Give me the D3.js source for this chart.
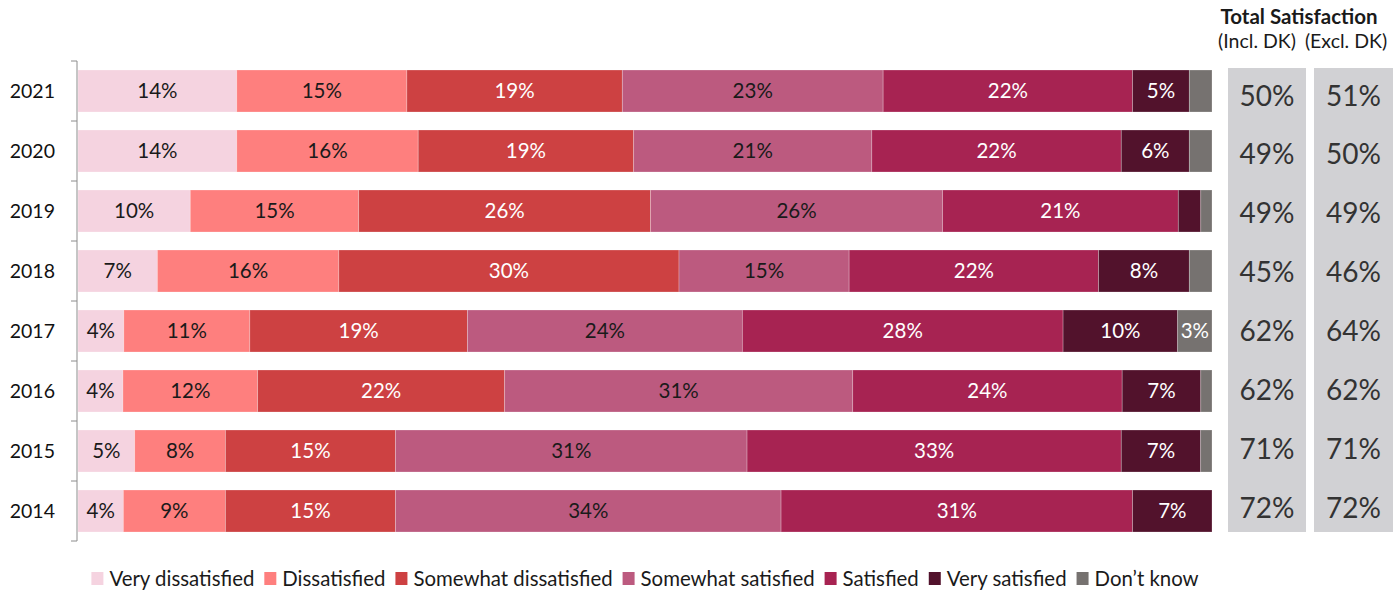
<!DOCTYPE html>
<html>
<head>
<meta charset="utf-8">
<script src="https://cdn.jsdelivr.net/npm/d3@7/dist/d3.min.js"></script>
<style>
  html, body { margin: 0; padding: 0; background: #fff; }
  svg { display: block; font-family: Lato, "Noto Sans", sans-serif; }
</style>
</head>
<body>
<svg id="chart" width="1400" height="592"></svg>
<script>
// Satisfaction survey, share of responses per year (%)
const years = ["2021", "2020", "2019", "2018", "2017", "2016", "2015", "2014"];
const categories = ["Very dissatisfied", "Dissatisfied", "Somewhat dissatisfied",
  "Somewhat satisfied", "Satisfied", "Very satisfied", "Don\u2019t know"];
const veryDissatisfied     = [14, 14, 10, 7, 4, 4, 5, 4];
const dissatisfied         = [15, 16, 15, 16, 11, 12, 8, 9];
const somewhatDissatisfied = [19, 19, 26, 30, 19, 22, 15, 15];
const somewhatSatisfied    = [23, 21, 26, 15, 24, 31, 31, 34];
const satisfied            = [22, 22, 21, 22, 28, 24, 33, 31];
const verySatisfied        = [5, 6, 2, 8, 10, 7, 7, 7];
const dontKnow             = [2, 2, 1, 2, 3, 1, 1, 0];
// Total satisfaction columns (%)
const totalInclDK = [50, 49, 49, 45, 62, 62, 71, 72];
const totalExclDK = [51, 50, 49, 46, 64, 62, 71, 72];

const colors = ["#f5d3e0", "#fe7f7e", "#cd4142", "#bc5a7f", "#a72352", "#52122c", "#767270"];
const labelColors = ["#1a1a1a", "#1a1a1a", "#ffffff", "#1a1a1a", "#ffffff", "#ffffff", "#ffffff"];

const seriesValues = [veryDissatisfied, dissatisfied, somewhatDissatisfied,
  somewhatSatisfied, satisfied, verySatisfied, dontKnow];

const rows = years.map((y, i) => {
  const r = { year: y };
  categories.forEach((c, k) => { r[c] = seriesValues[k][i]; });
  return r;
});

const svg = d3.select("#chart");

const x = d3.scaleLinear().domain([0, 1]).range([78, 1212]);
const y = d3.scaleBand().domain(years).range([61, 541])
  .paddingInner(0.3).paddingOuter(0.15);

const stacked = d3.stack().keys(categories).offset(d3.stackOffsetExpand)(rows);

// Stacked bars
const layers = svg.append("g").selectAll("g")
  .data(stacked).join("g")
  .attr("fill", (d, k) => colors[k]);

layers.selectAll("rect")
  .data(d => d.map(s => ({ s, key: d.key })))
  .join("rect")
  .attr("x", d => x(d.s[0]))
  .attr("y", d => y(d.s.data.year))
  .attr("width", d => Math.max(0, x(d.s[1]) - x(d.s[0])))
  .attr("height", y.bandwidth())
  .attr("stroke", "#ffffff")
  .attr("stroke-opacity", 0.3)
  .attr("stroke-width", 0.8);

// Segment value labels
stacked.forEach((layer, k) => {
  svg.append("g").selectAll("text")
    .data(layer.filter(s => s.data[layer.key] >= 3))
    .join("text")
    .attr("x", s => (x(s[0]) + x(s[1])) / 2)
    .attr("y", s => y(s.data.year) + y.bandwidth() / 2)
    .attr("dy", "0.36em")
    .attr("text-anchor", "middle")
    .attr("font-size", 20.5)
    .attr("fill", labelColors[k])
    .text(s => s.data[layer.key] + "%");
});

// Category axis on the left
const axisG = svg.append("g");
axisG.append("line")
  .attr("x1", 77).attr("x2", 77)
  .attr("y1", 61).attr("y2", 541)
  .attr("stroke", "#8c8c8c").attr("stroke-width", 1);
const step = y.step();
const edges = d3.range(years.length + 1).map(i => 61 + i * step);
axisG.selectAll("line.tick").data(edges).join("line")
  .attr("class", "tick")
  .attr("x1", 71).attr("x2", 77)
  .attr("y1", d => d).attr("y2", d => d)
  .attr("stroke", "#8c8c8c").attr("stroke-width", 1);
axisG.selectAll("text").data(years).join("text")
  .attr("x", 55)
  .attr("y", d => y(d) + y.bandwidth() / 2)
  .attr("dy", "0.36em")
  .attr("text-anchor", "end")
  .attr("font-size", 19.5)
  .attr("fill", "#111")
  .text(d => d);

// Total satisfaction panel
const panelCols = [
  { values: totalInclDK, x0: 1228, x1: 1306, head: "(Incl. DK)", hx: 1257 },
  { values: totalExclDK, x0: 1314, x1: 1393, head: "(Excl. DK)", hx: 1346 }
];
const py = d3.scaleBand().domain(years).range([66, 537]);

svg.append("text")
  .attr("x", 1299).attr("y", 24)
  .attr("text-anchor", "middle")
  .attr("font-size", 20.5)
  .attr("font-weight", 700)
  .attr("fill", "#1a1a1a")
  .text("Total Satisfaction");

panelCols.forEach(col => {
  svg.append("rect")
    .attr("x", col.x0).attr("y", 68)
    .attr("width", col.x1 - col.x0).attr("height", 464)
    .attr("fill", "#d1d1d4");
  svg.append("text")
    .attr("x", col.hx).attr("y", 48)
    .attr("text-anchor", "middle")
    .attr("font-size", 19.5)
    .attr("fill", "#1a1a1a")
    .text(col.head);
  svg.append("g").selectAll("text")
    .data(years.map((yr, i) => ({ yr, v: col.values[i] })))
    .join("text")
    .attr("x", (col.x0 + col.x1) / 2)
    .attr("y", d => py(d.yr) + py.bandwidth() / 2)
    .attr("dy", "0.36em")
    .attr("text-anchor", "middle")
    .attr("font-size", 28)
    .attr("fill", "#333")
    .text(d => d.v + "%");
});

// Legend, centred under the bars
const legend = svg.append("g");
const items = legend.selectAll("g").data(categories).join("g");
items.append("rect")
  .attr("width", 12).attr("height", 13)
  .attr("y", 572)
  .attr("fill", (d, k) => colors[k]);
items.append("text")
  .attr("x", 18).attr("y", 586)
  .attr("font-size", 20.4)
  .attr("fill", "#1a1a1a")
  .text(d => d);
let cursor = 0;
const offsets = [];
items.each(function () {
  const w = d3.select(this).select("text").node().getComputedTextLength();
  offsets.push(cursor);
  cursor += 18 + w + 10;
});
const totalW = cursor - 10;
const startX = (78 + 1212) / 2 - totalW / 2;
items.attr("transform", (d, k) => `translate(${startX + offsets[k]},0)`);
</script>
</body>
</html>
